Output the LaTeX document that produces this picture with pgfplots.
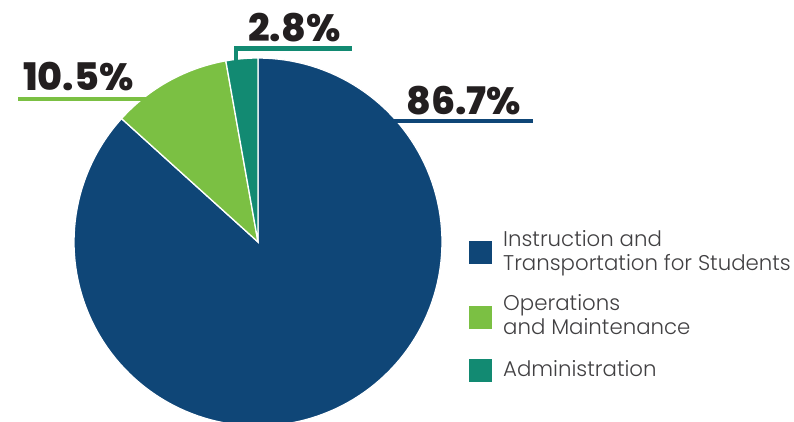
\documentclass[border=0pt]{standalone}
\usepackage{pgfplots}
\usepackage{pgfplotstable}
\pgfplotsset{compat=1.18}
\usepackage{fontspec}
\setmainfont{Poppins}
\newfontfamily\legfont{Poppins Light}
\newfontfamily\numfont{Poppins ExtraBold}
\definecolor{cblue}{HTML}{0F4677}
\definecolor{cgreen}{HTML}{7BC043}
\definecolor{cteal}{HTML}{128A72}
\definecolor{ctext}{HTML}{231F20}
\definecolor{cleg}{HTML}{414042}
\pgfplotstableread{
share
86.7
10.5
2.8
}\piedata
\pgfplotstablegetelem{0}{share}\of\piedata \edef\sA{\pgfplotsretval}
\pgfplotstablegetelem{1}{share}\of\piedata \edef\sB{\pgfplotsretval}
\pgfplotstablegetelem{2}{share}\of\piedata \edef\sC{\pgfplotsretval}
\pgfmathsetmacro\aA{90}
\pgfmathsetmacro\aB{90-3.6*\sA}
\pgfmathsetmacro\aC{\aB-3.6*\sB}
\pgfmathsetmacro\aD{\aC-3.6*\sC}
\begin{document}
\begin{tikzpicture}
\begin{axis}[
  name=ax,
  width=794pt, height=421pt, scale only axis,
  xmin=0, xmax=794, ymin=0, ymax=421,
  hide axis, enlargelimits=false,
]
% pie sectors
\addplot[fill=cblue, draw=white, line width=1.3pt, domain=\aB:\aA, samples=150, variable=\t]
  ({258+184*cos(\t)},{179+184*sin(\t)}) -- (axis cs:258,179) -- cycle;
\addplot[fill=cgreen, draw=white, line width=1.3pt, domain=\aC:\aB, samples=40, variable=\t]
  ({258+184*cos(\t)},{179+184*sin(\t)}) -- (axis cs:258,179) -- cycle;
\addplot[fill=cteal, draw=white, line width=1.3pt, domain=\aD:\aC, samples=20, variable=\t]
  ({258+184*cos(\t)},{179+184*sin(\t)}) -- (axis cs:258,179) -- cycle;
% leader lines
\addplot[cblue, line width=4.6pt] coordinates {(385,300) (533,300)};
\addplot[cgreen, line width=4.6pt] coordinates {(18,322) (158,322)};
\addplot[cteal, line width=4.6pt] coordinates {(236,351) (236,372.5) (352,372.5)};
% labels
\node[anchor=base west, inner sep=0pt, text=ctext, font=\fontsize{38}{38}\selectfont\numfont] at (axis cs:406,306) {86.7\%};
\node[anchor=base west, inner sep=0pt, text=ctext, font=\fontsize{38}{38}\selectfont\numfont] at (axis cs:23,330) {10.5\%};
\node[anchor=base west, inner sep=0pt, text=ctext, font=\fontsize{38}{38}\selectfont\numfont] at (axis cs:248,379) {2.8\%};
% legend
\addplot[only marks, mark=square*, mark size=11pt, mark options={draw=cblue, fill=cblue, line width=0pt}] coordinates {(480,168.3)};
\addplot[only marks, mark=square*, mark size=11pt, mark options={draw=cgreen, fill=cgreen, line width=0pt}] coordinates {(480,104)};
\addplot[only marks, mark=square*, mark size=11pt, mark options={draw=cteal, fill=cteal, line width=0pt}] coordinates {(480,51)};
\node[anchor=base west, inner sep=0pt, text=cleg, font=\fontsize{21.3}{21}\selectfont\legfont] at (axis cs:503,174.3) {Instruction and};
\node[anchor=base west, inner sep=0pt, text=cleg, font=\fontsize{21.3}{21}\selectfont\legfont] at (axis cs:503,150.3) {Transportation for Students};
\node[anchor=base west, inner sep=0pt, text=cleg, font=\fontsize{21.3}{21}\selectfont\legfont] at (axis cs:503,110.3) {Operations};
\node[anchor=base west, inner sep=0pt, text=cleg, font=\fontsize{21.3}{21}\selectfont\legfont] at (axis cs:503,86.7) {and Maintenance};
\node[anchor=base west, inner sep=0pt, text=cleg, font=\fontsize{21.3}{21}\selectfont\legfont] at (axis cs:503,45) {Administration};
\end{axis}
\pgfresetboundingbox
\path (ax.south west) rectangle (ax.north east);
\end{tikzpicture}
\end{document}
